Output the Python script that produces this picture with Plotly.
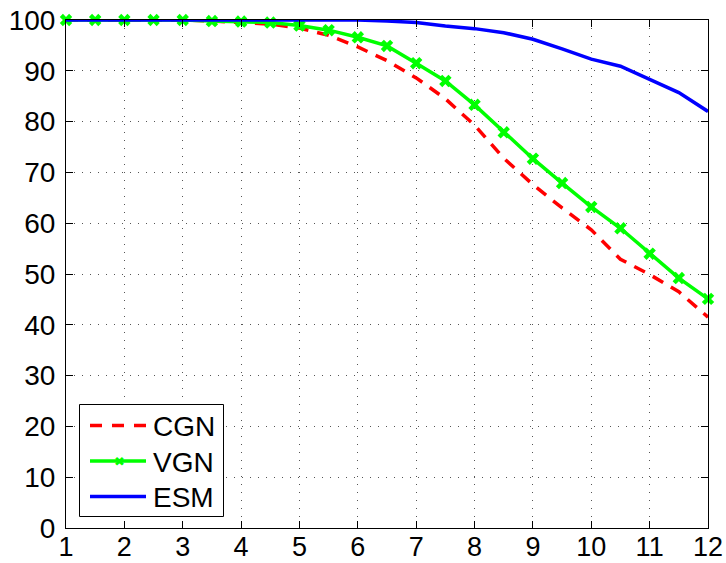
import plotly.graph_objects as go

# Horizontal sample positions
x_vals = [1, 1.5, 2, 2.5, 3, 3.5, 4, 4.5, 5, 5.5, 6, 6.5, 7, 7.5, 8, 8.5, 9, 9.5,
          10, 10.5, 11, 11.5, 12]

# Series values (percent)
cgn = [100, 100, 100, 100, 100, 99.8, 99.5, 99.2, 98.4, 97.0, 94.7, 92.0, 88.6,
       84.5, 79.3, 72.8, 67.6, 63.0, 58.7, 52.9, 49.9, 46.5, 41.5]
vgn = [100, 100, 100, 100, 100, 99.8, 99.7, 99.5, 98.9, 98.0, 96.6, 94.9, 91.5,
       88.0, 83.3, 77.9, 72.7, 67.9, 63.2, 59.0, 54.0, 49.2, 45.1]
esm = [100, 100, 100, 100, 100, 100, 100, 100, 100, 100, 100, 99.8, 99.5, 98.8,
       98.3, 97.5, 96.2, 94.3, 92.3, 90.9, 88.3, 85.7, 82.0]

series_names = ["CGN", "VGN", "ESM"]
series_colors = ["#FF0000", "#00FF00", "#0000FF"]
series_dash = ["12px,9px", "solid", "solid"]

x_ticks = [1, 2, 3, 4, 5, 6, 7, 8, 9, 10, 11, 12]
y_ticks = [0, 10, 20, 30, 40, 50, 60, 70, 80, 90, 100]

FONT = "Liberation Sans, Arial, Helvetica, sans-serif"
LW = 3.5

fig = go.Figure()
fig.add_trace(go.Scatter(
    x=x_vals, y=cgn, name=series_names[0], mode="lines",
    line=dict(color=series_colors[0], width=LW, dash=series_dash[0]),
))
fig.add_trace(go.Scatter(
    x=x_vals, y=vgn, name=series_names[1], mode="lines+markers",
    line=dict(color=series_colors[1], width=LW),
    marker=dict(symbol="x", size=11, color=series_colors[1]),
    cliponaxis=False,
))
fig.add_trace(go.Scatter(
    x=x_vals, y=esm, name=series_names[2], mode="lines",
    line=dict(color=series_colors[2], width=LW),
))

axis_common = dict(
    showline=True, linecolor="black", linewidth=1, mirror="ticks",
    ticks="inside", ticklen=7, tickwidth=1, tickcolor="black",
    showgrid=True, gridcolor="#555555", gridwidth=1, griddash="1px,7px",
    zeroline=False, automargin=False,
)

fig.update_xaxes(range=[1, 12], tickvals=x_ticks, ticklabelstandoff=-5,
                 tickfont=dict(family=FONT, size=27, color="black"),
                 **axis_common)
fig.update_yaxes(range=[0, 100], tickvals=y_ticks, ticklabelstandoff=4,
                 tickfont=dict(family=FONT, size=28, color="black"),
                 **axis_common)

# --- legend box (drawn in plot-area pixel units, converted to paper) ---
W, H = 726, 563
ML, MR, MT, MB = 66, 18, 20, 35
PW, PH = W - ML - MR, H - MT - MB


def px(xp):
    return (xp - ML) / PW


def py(yp):
    return (H - MB - yp) / PH


shapes = [dict(type="rect", xref="paper", yref="paper",
               x0=px(79.5), x1=px(223.5), y0=py(516.5), y1=py(404.5),
               line=dict(color="black", width=1), fillcolor="white",
               layer="above")]
annotations = []
row_y = [425.5, 461, 496.5]
for name, color, dash, yy in zip(series_names, series_colors, series_dash, row_y):
    shapes.append(dict(type="line", xref="paper", yref="paper",
                       x0=px(90), x1=px(146), y0=py(yy), y1=py(yy),
                       line=dict(color=color, width=LW,
                                 dash="12px,10px" if dash != "solid" else "solid"),
                       layer="above"))
    annotations.append(dict(xref="paper", yref="paper", x=px(151), y=py(yy + 1),
                            xanchor="left", yanchor="middle", showarrow=False,
                            text=name,
                            font=dict(family=FONT, size=28, color="black")))
# marker sample for the VGN entry
annotations.append(dict(xref="paper", yref="paper", x=px(119), y=py(461),
                        xanchor="center", yanchor="middle", showarrow=False,
                        text="\u2716",
                        font=dict(family="DejaVu Sans", size=13,
                                  color=series_colors[1])))

fig.update_layout(
    width=W, height=H,
    margin=dict(l=ML, r=MR, t=MT, b=MB),
    paper_bgcolor="white", plot_bgcolor="white",
    font=dict(family=FONT, size=28, color="black"),
    showlegend=False,
    shapes=shapes,
    annotations=annotations,
)

fig.write_html("out.html")
